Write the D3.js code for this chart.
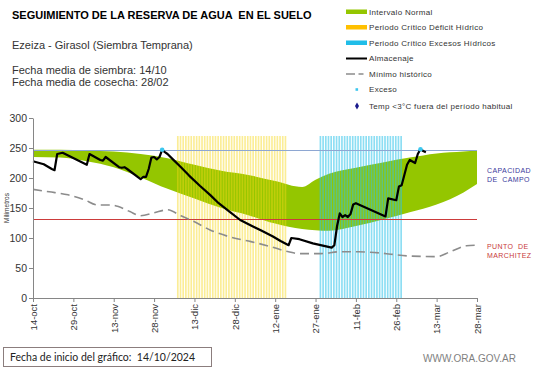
<!DOCTYPE html>
<html>
<head>
<meta charset="utf-8">
<script src="https://cdn.jsdelivr.net/npm/d3@7"></script>
<style>
  body { margin: 0; background: #fff; }
  svg { display: block; font-family: "Liberation Sans", Arial, sans-serif; }
</style>
</head>
<body>
<svg id="chart" width="541" height="368"></svg>
<script>
// --- data ---
const xTicks = ["2024-10-14", "2024-10-29", "2024-11-13", "2024-11-28", "2024-12-13", "2024-12-28",
  "2025-01-12", "2025-01-27", "2025-02-11", "2025-02-26", "2025-03-13", "2025-03-28"];
const yTicks = [0, 50, 100, 150, 200, 250, 300];
const monthNames = ["ene", "feb", "mar", "abr", "may", "jun", "jul", "ago", "sep", "oct", "nov", "dic"];

// intervalo normal (green band)
const bandDates = ["2024-10-14", "2024-10-24", "2024-11-03", "2024-11-13", "2024-11-23", "2024-12-03",
  "2024-12-13", "2024-12-23", "2025-01-02", "2025-01-12", "2025-01-22", "2025-01-27", "2025-02-01",
  "2025-02-11", "2025-02-21", "2025-03-03", "2025-03-13", "2025-03-23", "2025-03-28"];
const bandUpper = [247, 247, 246, 244, 240, 233, 222, 212, 205, 195, 185, 197, 207, 217, 226, 234, 241, 244, 246];
const bandLower = [235, 234, 228, 218, 201, 182, 166, 150, 138, 124, 115, 113, 112, 120, 131, 143, 156, 176, 190];

// almacenaje (soil water storage)
const almDates = ["2024-10-14", "2024-10-18", "2024-10-21", "2024-10-22", "2024-10-23", "2024-10-25",
  "2024-11-03", "2024-11-04", "2024-11-08", "2024-11-09", "2024-11-10", "2024-11-15", "2024-11-16",
  "2024-11-17", "2024-11-18", "2024-11-23", "2024-11-24", "2024-11-25", "2024-11-26", "2024-11-27",
  "2024-11-28", "2024-11-29", "2024-11-30", "2024-12-01", "2024-12-02", "2024-12-03", "2024-12-05",
  "2024-12-08", "2024-12-11", "2024-12-15", "2024-12-19", "2024-12-22", "2024-12-26", "2024-12-30",
  "2025-01-03", "2025-01-07", "2025-01-11", "2025-01-14", "2025-01-17", "2025-01-18", "2025-01-21",
  "2025-01-26", "2025-02-02", "2025-02-03", "2025-02-04", "2025-02-05", "2025-02-06", "2025-02-07",
  "2025-02-08", "2025-02-09", "2025-02-10", "2025-02-11", "2025-02-22", "2025-02-23", "2025-02-26",
  "2025-02-27", "2025-02-28", "2025-03-01", "2025-03-02", "2025-03-03", "2025-03-05", "2025-03-06",
  "2025-03-07", "2025-03-08", "2025-03-09"];
const almValues = [228, 223, 215, 213, 240, 242,
  222, 240, 230, 229, 235, 218, 217,
  218, 215, 198, 202, 202, 215, 234,
  235, 231, 235, 247, 243, 240, 231,
  218, 204, 187, 171, 158, 144, 130,
  121, 112, 103, 95, 88, 100, 98,
  91, 84, 88, 120, 141, 135, 138,
  135, 140, 156, 158, 136, 166, 163,
  186, 188, 205, 222, 230, 225, 240,
  248, 245, 243];

// minimo historico
const minDates = ["2024-10-14", "2024-10-20", "2024-10-27", "2024-11-02", "2024-11-07", "2024-11-12",
  "2024-11-15", "2024-11-19", "2024-11-23", "2024-11-28", "2024-12-03", "2024-12-08", "2024-12-13",
  "2024-12-19", "2024-12-26", "2025-01-03", "2025-01-10", "2025-01-17", "2025-01-21", "2025-01-29",
  "2025-02-05", "2025-02-12", "2025-02-20", "2025-02-24", "2025-03-03", "2025-03-13", "2025-03-18",
  "2025-03-24", "2025-03-28"];
const minValues = [181, 177, 172, 164, 155, 155, 152, 144, 137, 142, 147, 137, 127,
  113, 102, 94, 86, 77, 74, 74, 77, 77, 75, 73, 70, 69, 77, 87, 88];

// exceso markers
const excesoDates = ["2024-12-01", "2025-03-07"];
const excesoValues = [247, 248];

// periodos criticos
const deficitPeriod = ["2024-12-07", "2025-01-16"];
const excesoPeriod = ["2025-01-29", "2025-02-28"];
const periodTop = 270;

const capacidadCampo = 246;
const puntoMarchitez = 131;

// --- scales ---
const parse = d3.utcParse("%Y-%m-%d");
const svg = d3.select("#chart");

const x = d3.scaleUtc()
  .domain([parse("2024-10-14"), parse("2025-03-28")])
  .range([33, 477]);
const y = d3.scaleLinear().domain([0, 300]).range([298, 118]);
const crisp = v => Math.round(v) + 0.5;

// green band
const band = bandDates.map((d, i) => ({ date: parse(d), hi: bandUpper[i], lo: bandLower[i] }));
svg.append("path")
  .datum(band)
  .attr("fill", "#94c600")
  .attr("d", d3.area()
    .x(d => x(d.date))
    .y0(d => y(d.lo))
    .y1(d => y(d.hi))
    .curve(d3.curveMonotoneX));

// critical period stripes
function drawPeriod(period, fill, opacity) {
  const days = d3.utcDay.range(parse(period[0]), d3.utcDay.offset(parse(period[1]), 1));
  const dayW = x(d3.utcDay.offset(days[0], 1)) - x(days[0]);
  svg.append("g")
    .selectAll("rect")
    .data(days)
    .join("rect")
    .attr("x", d => x(d) - dayW / 2)
    .attr("y", y(periodTop))
    .attr("width", dayW * 0.62)
    .attr("height", y(0) - y(periodTop))
    .attr("fill", fill)
    .attr("opacity", opacity);
}
drawPeriod(deficitPeriod, "#f7d716", 0.45);
drawPeriod(excesoPeriod, "#2ec3ea", 0.55);

// reference lines
svg.append("line")
  .attr("x1", x.range()[0]).attr("x2", x.range()[1])
  .attr("y1", crisp(y(capacidadCampo))).attr("y2", crisp(y(capacidadCampo)))
  .attr("stroke", "#8ea7d2").attr("stroke-width", 1.2);
svg.append("line")
  .attr("x1", x.range()[0]).attr("x2", x.range()[1])
  .attr("y1", crisp(y(puntoMarchitez))).attr("y2", crisp(y(puntoMarchitez)))
  .attr("stroke", "#cc3b3b").attr("stroke-width", 1);

// minimo historico
svg.append("path")
  .datum(minDates.map((d, i) => ({ date: parse(d), v: minValues[i] })))
  .attr("fill", "none")
  .attr("stroke", "#8c8c8c")
  .attr("stroke-width", 1.6)
  .attr("stroke-dasharray", "9,5")
  .attr("d", d3.line().x(d => x(d.date)).y(d => y(d.v)).curve(d3.curveMonotoneX));

// almacenaje
svg.append("path")
  .datum(almDates.map((d, i) => ({ date: parse(d), v: almValues[i] })))
  .attr("fill", "none")
  .attr("stroke", "#000")
  .attr("stroke-width", 2.2)
  .attr("stroke-linejoin", "round")
  .attr("d", d3.line().x(d => x(d.date)).y(d => y(d.v)));

svg.append("g")
  .selectAll("circle")
  .data(excesoDates.map((d, i) => ({ date: parse(d), v: excesoValues[i] })))
  .join("circle")
  .attr("cx", d => x(d.date))
  .attr("cy", d => y(d.v))
  .attr("r", 2.3)
  .attr("fill", "#3cc6ee");

// axes
const fmt = d => d3.utcFormat("%d")(d) + "-" + monthNames[d.getUTCMonth()];

const xAxis = svg.append("g")
  .attr("transform", `translate(0,${y(0)})`)
  .call(d3.axisBottom(x).tickValues(xTicks.map(parse)).tickFormat(fmt).tickSize(4).tickSizeOuter(0));
xAxis.selectAll("text")
  .attr("transform", "rotate(-90)")
  .attr("x", -6)
  .attr("y", 0)
  .attr("dy", "0.35em")
  .style("text-anchor", "end")
  .attr("font-size", "9.5px")
  .attr("fill", "#333");

const yAxis = svg.append("g")
  .attr("transform", `translate(${x.range()[0]},0)`)
  .call(d3.axisLeft(y).tickValues(yTicks).tickSize(4).tickSizeOuter(0));
yAxis.selectAll("text")
  .attr("x", -6)
  .attr("font-size", "10.5px")
  .attr("fill", "#333");

[xAxis, yAxis].forEach(g => {
  g.select(".domain").attr("stroke", "#868686");
  g.selectAll(".tick line").attr("stroke", "#868686");
  g.attr("font-family", null);
});

svg.append("text")
  .attr("transform", "translate(9,208) rotate(-90)")
  .attr("text-anchor", "middle")
  .attr("font-size", "6.5px")
  .attr("fill", "#333")
  .text("Milímetros");

// titles
svg.append("text")
  .attr("x", 12).attr("y", 19)
  .attr("font-size", "11px")
  .attr("font-weight", "bold")
  .attr("fill", "#000")
  .style("white-space", "pre")
  .text("SEGUIMIENTO DE LA RESERVA DE AGUA  EN EL SUELO");

const info = ["Ezeiza - Girasol (Siembra Temprana)", "", "Fecha media de siembra: 14/10", "Fecha media de cosecha: 28/02"];
const infoY = [49, 0, 74, 86];
info.forEach((t, i) => {
  if (!t) return;
  svg.append("text")
    .attr("x", 12).attr("y", infoY[i])
    .attr("font-size", "11px")
    .attr("fill", "#333")
    .text(t);
});

// legend
const legendLabels = ["Intervalo Normal", "Periodo Crítico Déficit Hídrico", "Periodo Crítico Excesos Hídricos",
  "Almacenaje", "Mínimo histórico", "Exceso", "Temp <3°C fuera del período habitual"];
const legendY = [12, 27.5, 43, 58.5, 74, 89.5, 106];
const legend = svg.append("g");

legend.append("rect").attr("x", 346).attr("y", legendY[0] - 2.5).attr("width", 21).attr("height", 4.5).attr("fill", "#94c600");
legend.append("rect").attr("x", 346).attr("y", legendY[1] - 2.5).attr("width", 21).attr("height", 4.5).attr("fill", "#ffc000");
legend.append("rect").attr("x", 346).attr("y", legendY[2] - 2.5).attr("width", 21).attr("height", 4.5).attr("fill", "#20bde8");
legend.append("line").attr("x1", 346).attr("x2", 367).attr("y1", legendY[3]).attr("y2", legendY[3])
  .attr("stroke", "#000").attr("stroke-width", 2);
legend.append("line").attr("x1", 346).attr("x2", 364).attr("y1", legendY[4]).attr("y2", legendY[4])
  .attr("stroke", "#8c8c8c").attr("stroke-width", 1.6).attr("stroke-dasharray", "9,3.5,5,10");
legend.append("rect").attr("x", 355.5).attr("y", legendY[5] - 1.3).attr("width", 2.6).attr("height", 2.6).attr("fill", "#3cc6ee");
legend.append("path")
  .attr("transform", `translate(357,${legendY[6]})`)
  .attr("d", d3.symbol(d3.symbolDiamond, 14)())
  .attr("fill", "#1a1a8c");

legend.selectAll("text.lbl")
  .data(legendLabels)
  .join("text")
  .attr("class", "lbl")
  .attr("x", 369)
  .attr("y", (d, i) => legendY[i])
  .attr("dy", "0.35em")
  .attr("font-size", "8px")
  .attr("letter-spacing", "0.3px")
  .attr("fill", "#333")
  .text(d => d);

// right-hand labels
const sideLabels = [["CAPACIDAD", "DE  CAMPO"], ["PUNTO  DE", "MARCHITEZ"]];
const sideY = [173, 249];
const sideColor = ["#3a3a9c", "#c83a3a"];
sideLabels.forEach((lines, k) => {
  lines.forEach((t, j) => {
    svg.append("text")
      .attr("x", 487).attr("y", sideY[k] + j * 8.5)
      .attr("font-size", "7px")
      .attr("letter-spacing", "0.4px")
      .attr("fill", sideColor[k])
      .style("white-space", "pre")
      .text(t);
  });
});

// footer
svg.append("rect")
  .attr("x", 3.5).attr("y", 347.5).attr("width", 208).attr("height", 19)
  .attr("fill", "none").attr("stroke", "#8b7d7d");
svg.append("text")
  .attr("x", 10).attr("y", 361)
  .attr("font-family", "Lato, 'Open Sans', sans-serif")
  .attr("font-size", "10.5px")
  .attr("fill", "#222")
  .style("white-space", "pre")
  .text("Fecha de inicio del gráfico:  14/10/2024");
svg.append("text")
  .attr("x", 423).attr("y", 362)
  .attr("font-size", "10px")
  .attr("fill", "#7f7f7f")
  .text("WWW.ORA.GOV.AR");
</script>
</body>
</html>
